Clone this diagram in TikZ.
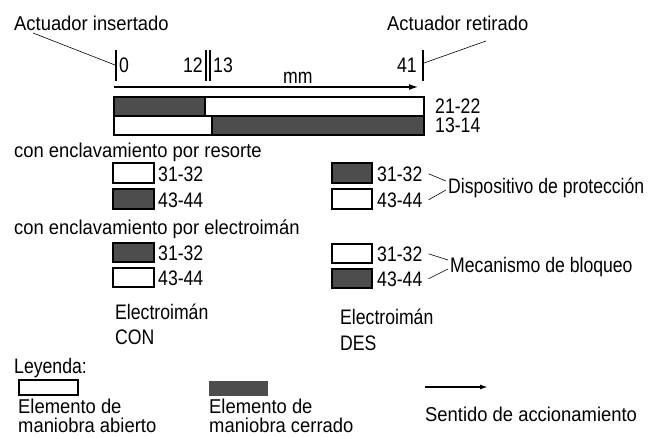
\documentclass[tikz,border=0pt]{standalone}
\usepackage{fontspec}
\setmainfont{Liberation Sans}[FakeStretch=0.92]
\newfontfamily\narrowfont{Liberation Sans}[FakeStretch=0.84]
\usepackage{tikz}
\usetikzlibrary{arrows.meta}
\definecolor{closedgray}{HTML}{4D4D4D}

\begin{document}
\begin{tikzpicture}
	[x=1pt,y=-1pt,
	 every node/.style={inner sep=0pt},
	 txt/.style={anchor=base west,font=\fontsize{20}{22}\selectfont},
	 ntxt/.style={anchor=base west,font=\narrowfont\fontsize{21}{24}\selectfont},
	 tickline/.style={line width=2pt},
	 leader/.style={line width=0.6pt},
	 openbox/.style={draw,line width=1.8pt,fill=white},
	 closedbox/.style={draw,line width=1.8pt,fill=closedgray}]
	\useasboundingbox (0,0) rectangle (654,437);
	% Weg
	\node[txt] (ains) at (14,30) {Actuador insertado};
	\node[txt] (aret) at (387,30) {Actuador retirado};
	\draw[tickline] (116,50) -- (116,81);
	\draw[tickline] (206,50) -- (206,81);
	\draw[tickline] (210,50) -- (210,81);
	\draw[tickline] (423,50) -- (423,81);
	\coordinate (t0) at (115,65);
	\coordinate (t41) at (424,63);
	\draw[leader] ([shift={(19pt,-3pt)}]ains.base west) -- (t0);
	\draw[leader] (t41) -- ([shift={(99pt,-11pt)}]aret.base west);
	\node[ntxt] (n0) at (119,72) {0};
	\node[ntxt,anchor=base east] (n12) at (203,72) {12};
	\node[ntxt] (n13) at (213,72) {13};
	\node[ntxt,anchor=base east] (n41) at (417,72) {41};
	\node[ntxt] (mm) at (283,83) {mm};
	\coordinate (a0) at (114,87);
	\coordinate (a1) at (419,87);
	\draw[line width=2pt,-{Latex[length=10pt,width=6pt]}] (a0) -- (a1);
	% Kontakte 21-22 / 13-14
	\draw[closedbox] (114,97) rectangle (205,116);
	\draw[openbox] (205,97) rectangle (424,116);
	\draw[openbox] (114,116) rectangle (212,135);
	\draw[closedbox] (212,116) rectangle (424,135);
	\node[ntxt] (k2122) at (435,113) {21-22};
	\node[ntxt] (k1314) at (435,132) {13-14};
	% Federkraft
	\node[txt] (resorte) at (14,157) {con enclavamiento por resorte};
	\draw[openbox] (113,163) rectangle (154,183);
	\draw[closedbox] (113,189) rectangle (154,209);
	\node[ntxt] (rl1) at (158,181) {31-32};
	\node[ntxt] (rl2) at (158,207) {43-44};
	\draw[closedbox] (332,163) rectangle (372,183);
	\draw[openbox] (332,189) rectangle (372,209);
	\node[ntxt] (rr1) at (377,181) {31-32};
	\node[ntxt] (rr2) at (377,207) {43-44};
	\node[ntxt] (disp) at (448,193) {Dispositivo de protección};
	\draw[leader] ([xshift=6pt]rr1.east) -- ([shift={(-2pt,12pt)}]disp.base west);
	\draw[leader] ([xshift=6pt]rr2.east) -- ([shift={(-2pt,3pt)}]disp.base west);
	% Magnetkraft
	\node[txt] (electro) at (14,234) {con enclavamiento por electroimán};
	\draw[closedbox] (113,243) rectangle (154,262);
	\draw[openbox] (113,268) rectangle (154,287);
	\node[ntxt] (el1) at (158,260) {31-32};
	\node[ntxt] (el2) at (158,285) {43-44};
	\draw[openbox] (332,244) rectangle (372,263);
	\draw[closedbox] (332,269) rectangle (372,288);
	\node[ntxt] (er1) at (377,261) {31-32};
	\node[ntxt] (er2) at (377,286) {43-44};
	\node[ntxt] (meca) at (450,272) {Mecanismo de bloqueo};
	\draw[leader] ([xshift=6pt]er1.east) -- ([shift={(-2pt,12pt)}]meca.base west);
	\draw[leader] ([xshift=6pt]er2.east) -- ([shift={(-2pt,3pt)}]meca.base west);
	\node[ntxt] (econ) at (115,319) {Electroimán};
	\node[ntxt] (con) at (115,344) {CON};
	\node[ntxt] (edes) at (340,324) {Electroimán};
	\node[ntxt] (des) at (340,350) {DES};
	% Legende
	\node[ntxt] (leyenda) at (14,373) {Leyenda:};
	\draw[openbox,line width=1.4pt] (19,380) rectangle (78,395);
	\draw[fill=closedgray,draw=closedgray] (209,381) rectangle (267,395);
	\node[txt] (eab) at (18,413) {Elemento de};
	\node[txt] (mab) at (18,432) {maniobra abierto};
	\node[txt] (ece) at (209,413) {Elemento de};
	\node[txt] (mce) at (209,432) {maniobra cerrado};
	\coordinate (s0) at (425,387);
	\coordinate (s1) at (488,387);
	\draw[line width=1.5pt,-{Latex[length=8pt,width=5pt]}] (s0) -- (s1);
	\node[txt] (sentido) at (425,421) {Sentido de accionamiento};
\end{tikzpicture}
\end{document}
